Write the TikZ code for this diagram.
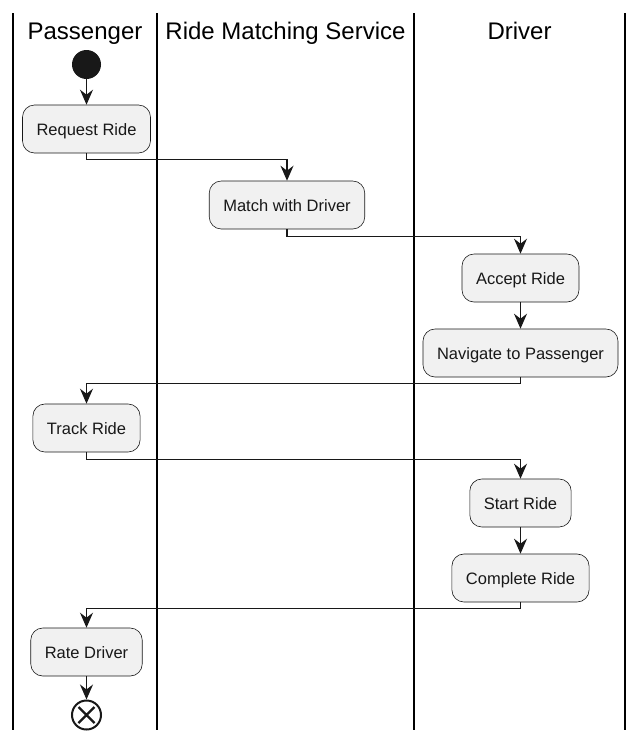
\documentclass[tikz,border=0pt]{standalone}
\usepackage{fontspec}
\setmainfont{Liberation Sans}
\usetikzlibrary{arrows.meta}
\definecolor{ink}{HTML}{181818}
\definecolor{boxfill}{HTML}{F1F1F1}
\tikzset{
  lane/.style={line width=1.6pt, black},
  lanetitle/.style={font=\fontsize{24}{28}\selectfont, text=black, anchor=base},
  activity/.style={draw=ink, line width=0.6pt, fill=boxfill, rounded corners=12pt,
    minimum height=48pt, inner xsep=14pt, text height=12pt, text depth=0pt,
    font=\fontsize{16.5}{19}\selectfont, text=ink},
  flow/.style={draw=ink, line width=1.2pt, -{Stealth[length=15pt, width=13pt, inset=5pt]}},
}
\begin{document}
\begin{tikzpicture}[x=1pt, y=-1pt]
    \fill[white] (0,0) rectangle (643,744);
    \useasboundingbox (0,0) rectangle (643,744);
    \draw[lane] (13,13) -- (13,730);
    \draw[lane] (157,13) -- (157,730);
    \draw[lane] (414,13) -- (414,730);
    \draw[lane] (625,13) -- (625,730);
    \node[lanetitle] (passenger) at (85,39.5) {Passenger};
    \node[lanetitle] (service) at (285.5,39.5) {Ride Matching Service};
    \node[lanetitle] (driver) at (519.5,39.5) {Driver};
    \node[circle, fill=ink, minimum size=29pt, inner sep=0pt] (start) at (86.5,64.5) {};
    \node[activity] (request) at (86.5,129) {Request Ride};
    \node[activity] (match) at (287,205) {Match with Driver};
    \node[activity] (accept) at (520.5,278) {Accept Ride};
    \node[activity] (navigate) at (520.5,353) {Navigate to Passenger};
    \node[activity] (track) at (86.5,428) {Track Ride};
    \node[activity] (startride) at (520.5,503) {Start Ride};
    \node[activity] (complete) at (520.5,578) {Complete Ride};
    \node[activity] (rate) at (86.5,652) {Rate Driver};
    \node[circle, draw=ink, line width=2pt, fill=white, minimum size=29pt, inner sep=0pt] (stop) at (86.5,715) {};
    \draw[ink, line width=2.4pt] ([shift={(-8,-8)}]stop.center) -- ([shift={(8,8)}]stop.center)
      ([shift={(-8,8)}]stop.center) -- ([shift={(8,-8)}]stop.center);
    \draw[flow] (start) -- (request);
    \draw[flow] (request.south) -- ++(0,6) -| (match.north);
    \draw[flow] (match.south) -- ++(0,7) -| (accept.north);
    \draw[flow] (accept) -- (navigate);
    \draw[flow] (navigate.south) -- ++(0,6) -| (track.north);
    \draw[flow] (track.south) -- ++(0,7) -| (startride.north);
    \draw[flow] (startride) -- (complete);
    \draw[flow] (complete.south) -- ++(0,6) -| (rate.north);
    \draw[flow] (rate) -- (stop);
\end{tikzpicture}
\end{document}
